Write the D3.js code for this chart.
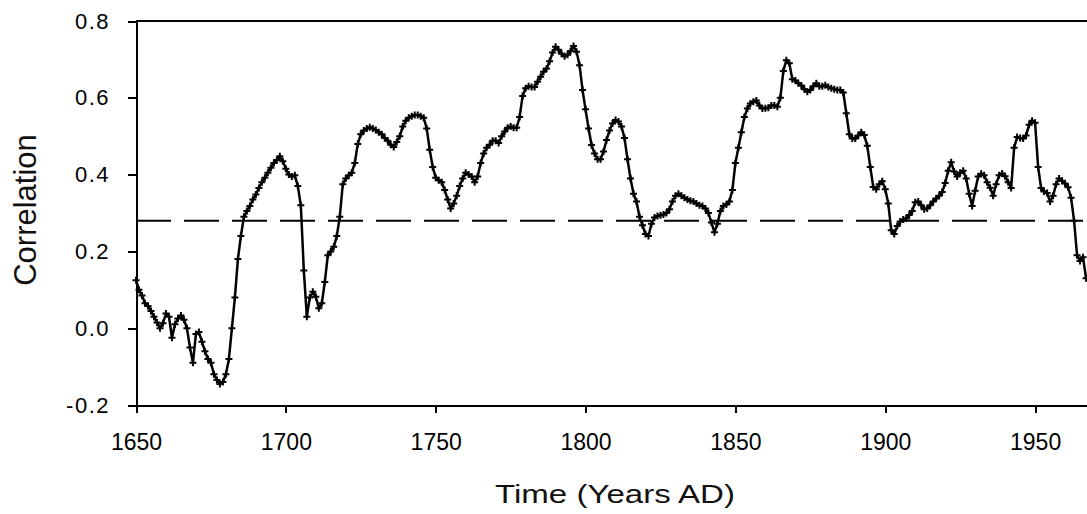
<!DOCTYPE html>
<meta charset="utf-8">
<style>
body { margin: 0; background: #fff; }
svg { display: block; }
.axis path, .axis line { fill: none; stroke: #000; stroke-width: 2px; shape-rendering: crispEdges; }
.axis text { font-family: "Liberation Sans", Arial, sans-serif; font-size: 22px; fill: #000; }
.title { font-family: "Liberation Sans", Arial, sans-serif; fill: #111; }
.series { fill: none; stroke: #000; stroke-width: 2.5px; stroke-linejoin: round; }
.marker { fill: none; stroke: #000; stroke-width: 2px; }
.thresh { stroke: #000; stroke-width: 2px; stroke-dasharray: 35 13; }
</style>
<body>
<div id="chart"></div>
<script src="https://cdn.jsdelivr.net/npm/d3@7"></script>
<script>
// yearly correlation, first value is 1650
var startYear = 1650;
var corr = [
  0.125, 0.10, 0.085, 0.065, 0.058, 0.045, 0.03, 0.015, 0.0, 0.013,      // 1650
  0.038, 0.03, -0.025, 0.01, 0.025, 0.033, 0.022, 0.0, -0.05, -0.09,     // 1660
  -0.015, -0.01, -0.035, -0.06, -0.08, -0.09, -0.12, -0.135, -0.145, -0.14, // 1670
  -0.12, -0.08, 0.0, 0.08, 0.18, 0.24, 0.29, 0.305, 0.318, 0.335,        // 1680
  0.348, 0.365, 0.38, 0.392, 0.405, 0.418, 0.43, 0.438, 0.448, 0.435,    // 1690
  0.415, 0.4, 0.395, 0.398, 0.37, 0.32, 0.15, 0.03, 0.08, 0.095,         // 1700
  0.082, 0.052, 0.065, 0.12, 0.19, 0.2, 0.212, 0.24, 0.29, 0.375,        // 1710
  0.39, 0.398, 0.405, 0.43, 0.48, 0.505, 0.515, 0.52, 0.523, 0.52,       // 1720
  0.516, 0.51, 0.505, 0.495, 0.488, 0.478, 0.472, 0.485, 0.5, 0.525,     // 1730
  0.54, 0.548, 0.552, 0.555, 0.555, 0.552, 0.548, 0.52, 0.465, 0.42,     // 1740
  0.392, 0.385, 0.38, 0.36, 0.335, 0.312, 0.325, 0.345, 0.37, 0.39,     // 1750
  0.405, 0.4, 0.395, 0.38, 0.395, 0.43, 0.455, 0.47, 0.478, 0.488,       // 1760
  0.488, 0.482, 0.5, 0.512, 0.522, 0.525, 0.522, 0.522, 0.55, 0.605,     // 1770
  0.625, 0.63, 0.628, 0.628, 0.642, 0.655, 0.668, 0.676, 0.695, 0.718,   // 1780
  0.733, 0.725, 0.715, 0.708, 0.712, 0.722, 0.735, 0.72, 0.685, 0.62,    // 1790
  0.57, 0.52, 0.477, 0.455, 0.44, 0.44, 0.46, 0.49, 0.515, 0.533,        // 1800
  0.542, 0.538, 0.525, 0.495, 0.44, 0.39, 0.35, 0.33, 0.29, 0.268,       // 1810
  0.245, 0.24, 0.272, 0.288, 0.292, 0.294, 0.296, 0.3, 0.31, 0.33,       // 1820
  0.345, 0.35, 0.345, 0.34, 0.335, 0.332, 0.33, 0.325, 0.32, 0.318,      // 1830
  0.312, 0.3, 0.275, 0.25, 0.272, 0.305, 0.318, 0.322, 0.33, 0.36,       // 1840
  0.43, 0.47, 0.51, 0.55, 0.572, 0.585, 0.59, 0.593, 0.58, 0.572,        // 1850
  0.573, 0.574, 0.58, 0.58, 0.577, 0.6, 0.67, 0.698, 0.69, 0.648,        // 1860
  0.645, 0.638, 0.632, 0.622, 0.616, 0.62, 0.63, 0.638, 0.63, 0.63,      // 1870
  0.633, 0.628, 0.625, 0.622, 0.62, 0.62, 0.614, 0.56, 0.505, 0.494,     // 1880
  0.494, 0.502, 0.51, 0.503, 0.475, 0.42, 0.368, 0.362, 0.375, 0.383,    // 1890
  0.362, 0.325, 0.255, 0.245, 0.266, 0.278, 0.283, 0.286, 0.295, 0.305,  // 1900
  0.328, 0.33, 0.32, 0.31, 0.312, 0.32, 0.33, 0.338, 0.345, 0.355,      // 1910
  0.378, 0.41, 0.432, 0.408, 0.395, 0.405, 0.41, 0.39, 0.35, 0.318,      // 1920
  0.358, 0.395, 0.402, 0.398, 0.38, 0.366, 0.345, 0.375, 0.398, 0.403,   // 1930
  0.396, 0.38, 0.365, 0.47, 0.498, 0.495, 0.494, 0.502, 0.53, 0.54,      // 1940
  0.535, 0.42, 0.365, 0.356, 0.352, 0.33, 0.345, 0.375, 0.39, 0.384,     // 1950
  0.377, 0.367, 0.34, 0.28, 0.19, 0.175, 0.185, 0.13                     // 1960
];
var threshold = 0.28;
var xTicks = [1650, 1700, 1750, 1800, 1850, 1900, 1950];
var yTicks = [-0.2, 0.0, 0.2, 0.4, 0.6, 0.8];
var yTickLabels = ["-0.2", "0.0", "0.2", "0.4", "0.6", "0.8"];

var W = 1087, H = 514;
var data = corr.map(function(v, i) { return { year: startYear + i, value: v }; });

var x = d3.scaleLinear().domain([1650, 1970]).range([136, 136 + 320 * 2.997]);
var y = d3.scaleLinear().domain([-0.2, 0.8]).range([405, 21]);

var svg = d3.select("#chart").append("svg")
    .attr("width", W)
    .attr("height", H);

// top frame line
svg.append("line")
    .attr("x1", x(1650)).attr("x2", x(1970))
    .attr("y1", y(0.8)).attr("y2", y(0.8))
    .attr("stroke", "#000").attr("stroke-width", 2)
    .style("shape-rendering", "crispEdges");

// threshold
svg.append("line")
    .attr("class", "thresh")
    .attr("x1", x(1650)).attr("x2", x(1970))
    .attr("y1", y(threshold)).attr("y2", y(threshold));

var xAxis = d3.axisBottom(x).tickValues(xTicks).tickSizeInner(8).tickSizeOuter(0).tickFormat(d3.format("d"));
svg.append("g")
    .attr("class", "axis axis--x")
    .attr("transform", "translate(0," + y(-0.2) + ")")
    .call(xAxis)
    .selectAll("text")
    .style("font-size", "23px")
    .attr("y", 45)
    .attr("dy", 0);

var yAxis = d3.axisLeft(y).tickValues(yTicks).tickSizeInner(8).tickSizeOuter(0).tickPadding(18)
    .tickFormat(function(d, i) { return yTickLabels[i]; });
svg.append("g")
    .attr("class", "axis axis--y")
    .attr("transform", "translate(" + x(1650) + ",0)")
    .call(yAxis)
    .selectAll("text")
    .style("letter-spacing", "1.5px");

var line = d3.line()
    .x(function(d) { return x(d.year); })
    .y(function(d) { return y(d.value); });

svg.append("path")
    .datum(data)
    .attr("class", "series")
    .attr("d", line);

svg.selectAll(".marker")
    .data(data)
    .enter().append("path")
    .attr("class", "marker")
    .attr("transform", function(d) { return "translate(" + x(d.year) + "," + y(d.value) + ")"; })
    .attr("d", "M-3.5,0H3.5M0,-3.5V3.5");

svg.append("text")
    .attr("class", "title")
    .attr("x", 615)
    .attr("y", 503)
    .attr("text-anchor", "middle")
    .style("font-size", "25px")
    .attr("textLength", 240)
    .attr("lengthAdjust", "spacingAndGlyphs")
    .text("Time (Years AD)");

svg.append("text")
    .attr("class", "title")
    .attr("transform", "translate(36,210) rotate(-90)")
    .attr("text-anchor", "middle")
    .style("font-size", "31px")
    .text("Correlation");
</script>
</body>
